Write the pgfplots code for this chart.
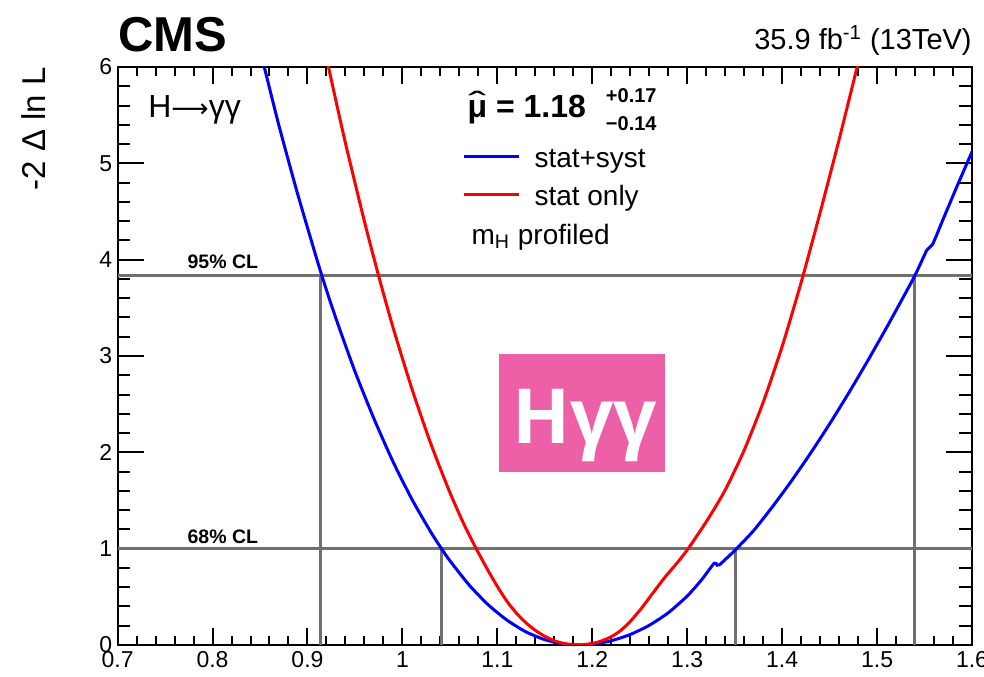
\documentclass[border=0pt]{standalone}
\usepackage{fontspec}
\setmainfont{Liberation Sans}
\newfontfamily\tagfont{Open Sans}
\newfontfamily\arrowfont{DejaVu Sans}
\usepackage{graphicx}
\usepackage{pgfplots}
\pgfplotsset{compat=1.18}

\definecolor{clgray}{RGB}{112,112,112}
\definecolor{tagpink}{RGB}{237,96,167}

% mu with a wide, thin hat centred over it
\newcommand{\muhat}{{\setbox0\hbox{μ}\makebox[0pt][l]{\makebox[\wd0][c]{\raisebox{0.08em}{\mdseries\scalebox{1.7}[1]{ˆ}}}}\box0}}

\begin{document}
\begin{tikzpicture}
\begin{axis}[
  width=427.2bp, height=289bp, scale only axis,
  xmin=0.7, xmax=1.6, ymin=0, ymax=6,
  xtick={0.7,0.8,0.9,1,1.1,1.2,1.3,1.4,1.5,1.6},
  ytick={0,1,2,3,4,5,6},
  minor x tick num=4, minor y tick num=4,
  tick align=inside,
  clip mode=individual,
  axis line style={line width=1bp},
  every tick/.style={black, line width=1bp},
  x tick style={/pgfplots/major tick length=8.3bp, /pgfplots/minor tick length=4.5bp},
  y tick style={/pgfplots/major tick length=13bp, /pgfplots/minor tick length=6.3bp},
  tick label style={font=\fontsize{11.5bp}{13bp}\selectfont},
  xticklabel style={inner sep=1.5bp, yshift=-1.5bp},
  yticklabel style={inner sep=1.5bp, xshift=-1bp},
  /pgf/number format/assume math mode=true,
  legend style={at={(axis cs:1.0633,4.835)}, anchor=west, draw=none, fill=none,
    inner sep=0pt, outer sep=0pt, row sep=6bp,
    font=\fontsize{14bp}{16bp}\selectfont,
    nodes={inner sep=0pt, text height=10bp, text depth=3bp},
    /tikz/every odd column/.append style={column sep=7bp}},
  legend cell align=left,
  legend image code/.code={\draw[#1] (0bp,1.8bp) -- (27.5bp,1.8bp);},
]

% confidence-level reference lines
\addplot[clgray, line width=1.5bp, forget plot] coordinates {(0.7,1) (1.6,1)};
\addplot[clgray, line width=1.5bp, forget plot] coordinates {(0.7,3.84) (1.6,3.84)};
\addplot[clgray, line width=1.5bp, forget plot] coordinates {(0.9142,0) (0.9142,3.84)};
\addplot[clgray, line width=1.5bp, forget plot] coordinates {(1.0415,0) (1.0415,1)};
\addplot[clgray, line width=1.5bp, forget plot] coordinates {(1.351,0) (1.351,1)};
\addplot[clgray, line width=1.5bp, forget plot] coordinates {(1.539,0) (1.539,3.84)};

% stat+syst scan
\addplot[blue, line width=1.5bp, smooth, tension=0.4] coordinates {
(0.850,6.18)(0.855,5.98)(0.870,5.39)(0.890,4.67)(0.914,3.87)(0.930,3.39)
(0.950,2.84)(0.970,2.35)(0.990,1.905)(1.010,1.513)(1.030,1.171)(1.042,0.988)
(1.050,0.875)(1.070,0.626)(1.090,0.421)(1.110,0.259)(1.130,0.137)(1.150,0.055)
(1.170,0.010)(1.185,0)(1.200,0.008)(1.220,0.044)(1.240,0.109)(1.260,0.204)
(1.280,0.334)(1.300,0.508)(1.315,0.675)(1.3285,0.849)(1.3315,0.828)(1.334,0.832)
(1.342,0.905)(1.352,1.0)(1.370,1.188)(1.390,1.438)(1.410,1.706)(1.430,1.992)
(1.450,2.295)(1.470,2.614)(1.490,2.948)(1.510,3.295)(1.525,3.564)(1.540,3.838)
(1.5525,4.10)(1.5585,4.16)(1.570,4.43)(1.585,4.78)(1.600,5.12)
};
\addlegendentry{stat+syst}

% stat-only scan
\addplot[red, line width=1.5bp, smooth, tension=0.4] coordinates {
(0.920,6.10)(0.923,5.96)(0.940,5.21)(0.960,4.397)(0.975,3.83)(0.990,3.30)
(1.010,2.66)(1.030,2.087)(1.050,1.583)(1.065,1.25)(1.078,0.995)(1.090,0.777)
(1.100,0.608)(1.110,0.455)(1.120,0.332)(1.130,0.232)(1.140,0.152)(1.150,0.09)
(1.160,0.045)(1.170,0.016)(1.185,0)(1.200,0.016)(1.2092,0.040)(1.220,0.086)
(1.2302,0.152)(1.240,0.245)(1.2513,0.375)(1.263,0.528)
(1.2757,0.693)(1.290,0.86)(1.301,1.0)(1.3214,1.30)(1.340,1.609)(1.360,2.022)
(1.380,2.519)(1.400,3.099)(1.420,3.763)(1.440,4.489)(1.460,5.247)(1.480,6.04)
};
\addlegendentry{stat only}

% annotations inside the frame
\node[anchor=base west, inner sep=0pt, font=\bfseries\fontsize{9.75bp}{11bp}\selectfont]
  at (axis cs:0.7733,3.904) {95\% CL};
\node[anchor=base west, inner sep=0pt, font=\bfseries\fontsize{9.75bp}{11bp}\selectfont]
  at (axis cs:0.7733,1.049) {68\% CL};
\node[anchor=base west, inner sep=0pt, font=\fontsize{16bp}{18bp}\selectfont]
  at (axis cs:0.732,5.48) {H{\arrowfont\fontsize{13bp}{16bp}\selectfont ⟶}γγ};
\node[anchor=base west, inner sep=0pt, font=\bfseries\fontsize{16bp}{18bp}\selectfont]
  at (axis cs:1.0683,5.48) {\muhat{} = 1.18};
\node[anchor=base west, inner sep=0pt, font=\bfseries\fontsize{10bp}{11bp}\selectfont]
  at (axis cs:1.214,5.63) {+0.17};
\node[anchor=base west, inner sep=0pt, font=\bfseries\fontsize{10bp}{11bp}\selectfont]
  at (axis cs:1.214,5.34) {−0.14};
\node[anchor=base west, inner sep=0pt, font=\fontsize{14bp}{16bp}\selectfont]
  at (axis cs:1.0725,4.16) {m\textsubscript{H} profiled};

% channel tag
\node[fill=tagpink, minimum width=83bp, minimum height=59bp, inner sep=0pt]
  at (axis cs:1.1889,2.409) {};
\node[anchor=base, inner sep=0pt, text=white, font=\tagfont\bfseries\fontsize{38bp}{40bp}\selectfont]
  at (axis cs:1.1917,2.094) {Hγγ};
\end{axis}

% headers and vertical title
\node[anchor=base west, inner sep=0pt, font=\bfseries\fontsize{24.5bp}{28bp}\selectfont]
  at ([yshift=7.5bp]current axis.north west) {CMS};
\node[anchor=base east, inner sep=0pt, font=\fontsize{14.5bp}{16bp}\selectfont]
  at ([yshift=8.5bp]current axis.north east) {35.9 fb\textsuperscript{-1} (13TeV)};
\node[anchor=base east, rotate=90, inner sep=0pt, font=\fontsize{16.5bp}{18bp}\selectfont]
  at ([xshift=-36.3bp]current axis.north west) {-2 Δ ln L};

\pgfresetboundingbox
\path ([shift={(-58.8bp,-16bp)}]current axis.south west)
  rectangle ([shift={(6bp,33.5bp)}]current axis.north east);
\end{tikzpicture}
\end{document}
